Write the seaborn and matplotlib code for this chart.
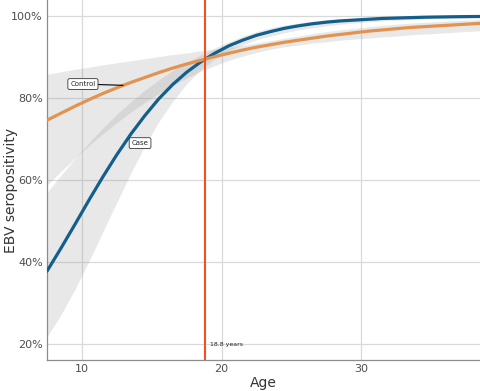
# %%
# libraries
import matplotlib
matplotlib.use("Agg")
import matplotlib.pyplot as plt
import matplotlib.ticker as mticker
import numpy as np
import pandas as pd
import seaborn as sns

# %%
# values (fitted curves and 95% bands)
age = [7.5, 8.5, 9.5, 10.5, 11.5, 12.5, 13.5, 14.5, 15.5, 16.5, 17.5, 18.5,
       19.5, 20.5, 21.5, 22.5, 23.5, 24.5, 25.5, 26.5, 27.5, 28.5, 29.5, 30.5,
       31.5, 32.5, 33.5, 34.5, 35.5, 36.5, 37.5, 38.5]

case_fit = [0.378, 0.434, 0.492, 0.551, 0.608, 0.662, 0.712, 0.757, 0.798, 0.833, 0.863, 0.888,
            0.909, 0.927, 0.941, 0.953, 0.962, 0.970, 0.976, 0.981, 0.985, 0.988, 0.990, 0.992,
            0.994, 0.995, 0.996, 0.997, 0.9976, 0.9981, 0.9985, 0.9988]
case_lo = [0.218, 0.272, 0.334, 0.402, 0.474, 0.546, 0.617, 0.683, 0.742, 0.792, 0.835, 0.869,
           0.895, 0.915, 0.930, 0.942, 0.951, 0.959, 0.966, 0.971, 0.976, 0.980, 0.983, 0.9855,
           0.9878, 0.9897, 0.9913, 0.9927, 0.9939, 0.9948, 0.9956, 0.9963]
case_hi = [0.570, 0.612, 0.652, 0.691, 0.727, 0.761, 0.791, 0.819, 0.844, 0.867, 0.887, 0.905,
           0.922, 0.937, 0.951, 0.962, 0.971, 0.978, 0.983, 0.9875, 0.9906, 0.9930, 0.9947, 0.9961,
           0.9971, 0.9978, 0.9984, 0.9988, 0.9991, 0.9993, 0.9995, 0.9996]

ctrl_fit = [0.746, 0.763, 0.780, 0.796, 0.811, 0.825, 0.838, 0.850, 0.862, 0.873, 0.883, 0.892,
            0.901, 0.909, 0.917, 0.924, 0.930, 0.936, 0.941, 0.946, 0.951, 0.955, 0.959, 0.963,
            0.966, 0.969, 0.972, 0.974, 0.976, 0.978, 0.980, 0.982]
ctrl_lo = [0.588, 0.621, 0.653, 0.684, 0.713, 0.740, 0.766, 0.789, 0.811, 0.831, 0.849, 0.865,
           0.879, 0.892, 0.902, 0.911, 0.919, 0.925, 0.929, 0.934, 0.937, 0.941, 0.944, 0.946,
           0.949, 0.951, 0.954, 0.956, 0.958, 0.960, 0.962, 0.964]
ctrl_hi = [0.858, 0.864, 0.870, 0.875, 0.881, 0.886, 0.891, 0.896, 0.901, 0.906, 0.910, 0.915,
           0.919, 0.924, 0.929, 0.934, 0.940, 0.946, 0.951, 0.957, 0.962, 0.966, 0.970, 0.974,
           0.977, 0.980, 0.9825, 0.9847, 0.9867, 0.9884, 0.9899, 0.9912]

cutoff_age = 18.8
x_ticks = [10, 20, 30]
y_ticks = [0.2, 0.4, 0.6, 0.8, 1.0]

# %%
# long table for seaborn
df = pd.DataFrame({
    "Age": age + age,
    "fit": case_fit + ctrl_fit,
    "group": ["Case"] * len(age) + ["Control"] * len(age),
})

colors = {"Case": "#135e8b", "Control": "#e2934f"}

# %%
sns.set_theme(style="whitegrid")
plt.rcParams["font.family"] = ["DejaVu Sans"]

fig = plt.figure(figsize=(4.8, 3.91), dpi=100)
ax = fig.add_axes([0.098, 0.079, 0.902, 0.921])

# confidence bands
ax.fill_between(age, ctrl_lo, ctrl_hi, color="#999999", alpha=0.22, lw=0, zorder=1)
ax.fill_between(age, case_lo, case_hi, color="#999999", alpha=0.22, lw=0, zorder=1)

sns.lineplot(data=df, x="Age", y="fit", hue="group", palette=colors,
             linewidth=2.3, legend=False, ax=ax, zorder=3)

ax.axvline(cutoff_age, color="#f2501c", linewidth=1.5, zorder=4)
ax.text(cutoff_age + 0.35, 0.20, f"{cutoff_age} years", fontsize=4.5,
        color="#222222", va="center", ha="left")

# labels on the curves
box = dict(boxstyle="round,pad=0.35,rounding_size=0.25", fc="white", ec="#333333", lw=0.6)
ax.annotate("Control", xy=(12.94, 0.831), xytext=(10.07, 0.834), fontsize=5,
            ha="center", va="center", bbox=box, zorder=5,
            arrowprops=dict(arrowstyle="-", color="black", lw=0.8, shrinkA=0, shrinkB=0))
ax.text(14.16, 0.69, "Case", fontsize=5, ha="center", va="center", bbox=box, zorder=5)

# axes styling
ax.set_xlim(7.5, 38.5)
ax.set_ylim(0.161, 1.039)
ax.set_xticks(x_ticks)
ax.set_yticks(y_ticks)
ax.yaxis.set_major_formatter(mticker.PercentFormatter(1.0, decimals=0))
ax.set_xlabel("Age", fontsize=10, color="#333333", labelpad=1)
ax.set_ylabel("EBV seropositivity", fontsize=10, color="#333333")
ax.yaxis.set_label_coords(-0.068, 0.47)
ax.tick_params(labelsize=8, colors="#4d4d4d", length=0, pad=3)
ax.grid(True, color="#d9d9d9", linewidth=0.9)
ax.set_facecolor("white")
for side in ["top", "right"]:
    ax.spines[side].set_visible(False)
for side in ["left", "bottom"]:
    ax.spines[side].set_color("#8c8c8c")
    ax.spines[side].set_linewidth(0.9)

fig.savefig("out.png", dpi=100)
